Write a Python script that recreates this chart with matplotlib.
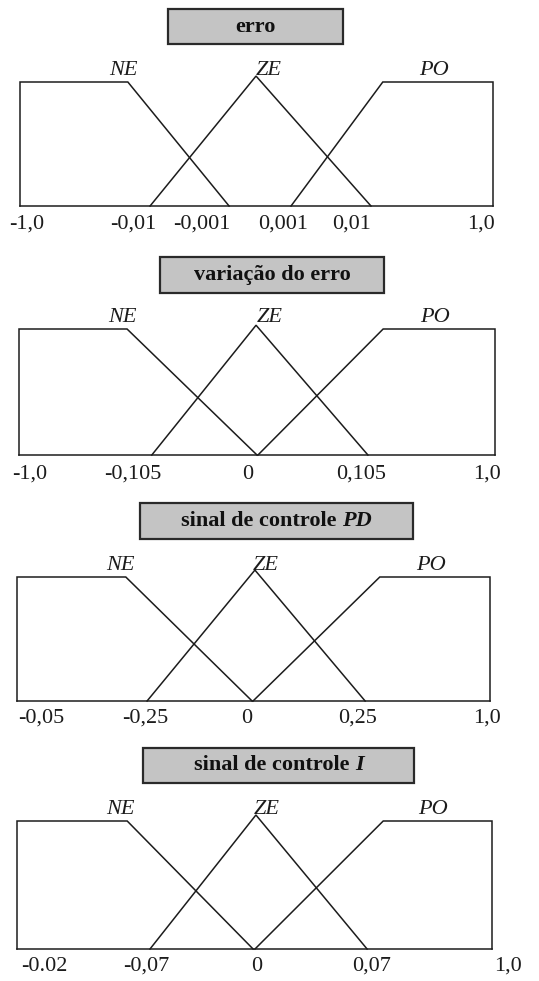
import matplotlib
matplotlib.use('Agg')
import matplotlib.pyplot as plt
from matplotlib.patches import Rectangle
from matplotlib.offsetbox import TextArea, HPacker, AnnotationBbox

plt.rcParams['font.family'] = ['Liberation Serif', 'DejaVu Serif']

# funções de pertinência (escala esquemática: 0 = borda esquerda, 100 = borda direita)
rotulos = ['NE', 'ZE', 'PO']

titulos = ['erro', 'variação do erro', 'sinal de controle ', 'sinal de controle ']
titulos_italico = ['', '', 'PD', 'I']

labels_erro = ['-1,0', '-0,01', '-0,001', '0,001', '0,01', '1,0']
ticks_erro = [1.5, 23.9, 38.5, 55.6, 70.0, 97.5]
ne_erro = [22.8, 44.2]          # ombro, fim
ze_erro = [27.5, 49.9, 74.2]    # inicio, pico, fim
po_erro = [57.3, 76.7]          # inicio, ombro
pico_erro = 1.048

labels_var = ['-1,0', '-0,105', '0', '0,105', '1,0']
ticks_var = [2.3, 24.0, 48.1, 71.8, 98.3]
ne_var = [22.7, 50.0]
ze_var = [27.9, 49.8, 73.3]
po_var = [50.2, 76.5]
pico_var = 1.03

labels_pd = ['-0,05', '-0,25', '0', '0,25', '1,0']
ticks_pd = [5.1, 27.1, 48.6, 72.1, 99.4]
ne_pd = [23.0, 49.7]
ze_pd = [27.5, 50.3, 73.6]
po_pd = [49.9, 76.7]
pico_pd = 1.056

labels_i = ['-0.02', '-0,07', '0', '0,07', '1,0']
ticks_i = [5.7, 27.2, 50.5, 74.7, 103.4]
ne_i = [23.2, 49.7]
ze_i = [28.0, 50.3, 73.7]
po_i = [50.1, 77.1]
pico_i = 1.047

paineis = [
    (labels_erro, ticks_erro, ne_erro, ze_erro, po_erro, pico_erro),
    (labels_var, ticks_var, ne_var, ze_var, po_var, pico_var),
    (labels_pd, ticks_pd, ne_pd, ze_pd, po_pd, pico_pd),
    (labels_i, ticks_i, ne_i, ze_i, po_i, pico_i),
]

# layout em pixels (esq, topo, dir, base)
W, H = 539, 981
caixas = [(20, 82, 493, 206), (19, 329, 495, 455), (17, 577, 490, 701), (17, 821, 492, 949)]
caixas_titulo = [(168, 9, 343, 44), (160, 257, 384, 293), (140, 503, 413, 539), (143, 748, 414, 783)]
gap_label = [10, 11, 9, 9]
xmax = 106  # folga a direita para rotulos fora da caixa

cor = '#1c1c1c'
lw = 1.1

fig = plt.figure(figsize=(W / 100, H / 100), dpi=100)

for i, (labels, ticks, ne, ze, po, pico) in enumerate(paineis):
    l, t, r, b = caixas[i]
    largura = (r - l) * xmax / 100
    ax = fig.add_axes([l / W, 1 - b / H, largura / W, (b - t) / H])
    for s in ax.spines.values():
        s.set_visible(False)
    ax.set_yticks([])

    kw = dict(color=cor, lw=lw, clip_on=False, solid_joinstyle='miter')
    ax.plot([0, 100], [0, 0], **kw)
    ax.plot([0, 0, ne[0], ne[1]], [0, 1, 1, 0], **kw)
    ax.plot(ze, [0, pico, 0], **kw)
    ax.plot([po[0], po[1], 100, 100], [0, 1, 1, 0], **kw)

    ax.set_xticks(ticks)
    ax.set_xticklabels(labels, fontsize=16)
    ax.tick_params(axis='x', length=0, pad=gap_label[i] * 0.72 - 1, colors=cor)
    ax.set_xlim(0, xmax)
    ax.set_ylim(0, 1)

    for nome, xpos in zip(rotulos, [21.8, 52.6, 87.5]):
        ax.text(xpos, 1 + 7 / (b - t), nome, fontsize=16, fontstyle='italic',
                ha='center', va='baseline', color=cor, clip_on=False)

    # caixa do titulo
    x0, y0, x1, y1 = caixas_titulo[i]
    fig.add_artist(Rectangle((x0 / W, 1 - y1 / H), (x1 - x0) / W, (y1 - y0) / H,
                             transform=fig.transFigure, facecolor='#c4c4c4',
                             edgecolor='#2a2a2a', lw=1.6))
    partes = [TextArea(titulos[i], textprops=dict(fontsize=16, fontweight='bold', color='#111111'))]
    if titulos_italico[i]:
        partes.append(TextArea(titulos_italico[i],
                               textprops=dict(fontsize=16, fontweight='bold',
                                              fontstyle='italic', color='#111111')))
    caixa_txt = HPacker(children=partes, align='baseline', pad=0, sep=0)
    ab = AnnotationBbox(caixa_txt, ((x0 + x1) / 2 / W, 1 - (y0 + y1) / 2 / H),
                        xycoords='figure fraction', box_alignment=(0.5, 0.5), frameon=False)
    fig.add_artist(ab)

fig.savefig('out.png', dpi=100, facecolor='white')
